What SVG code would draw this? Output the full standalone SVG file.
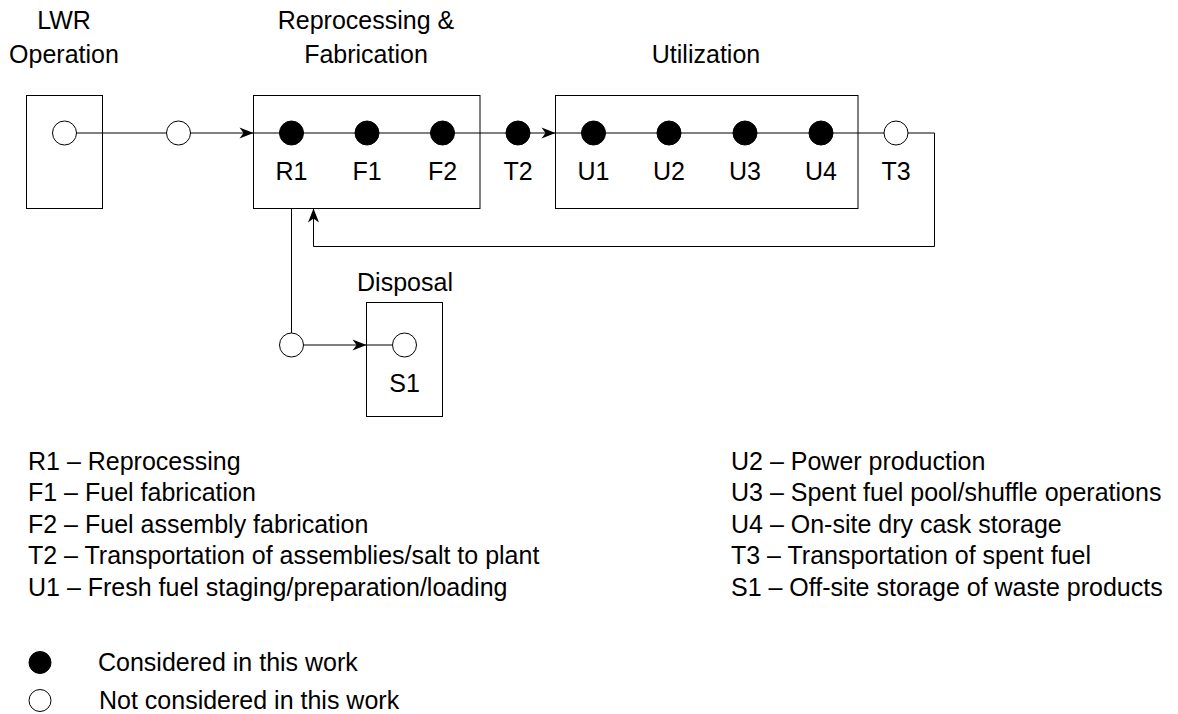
<svg xmlns="http://www.w3.org/2000/svg" width="1178" height="714" viewBox="0 0 1178 714">
<defs>
<marker id="arr" markerUnits="userSpaceOnUse" markerWidth="18" markerHeight="14" viewBox="-16 -7 18 14" refX="0" refY="0" orient="auto">
<path d="M0,0 L-14,-5.5 L-10,0 L-14,5.5 Z" fill="#000"/>
</marker>
</defs>
<style>
text{font-family:"Liberation Sans",Arial,Helvetica,sans-serif;font-size:25px;fill:#000}
.c{text-anchor:middle}
.box{fill:none;stroke:#000;stroke-width:1}
.ln{fill:none;stroke:#000;stroke-width:1}
.open{fill:#fff;stroke:#000;stroke-width:1}
.full{fill:#000;stroke:#000;stroke-width:1}
</style>
<rect width="1178" height="714" fill="#fff"/>
<g id="connectors">
<line class="ln" x1="64" y1="133" x2="166" y2="133"/>
<line class="ln" x1="190" y1="133" x2="253.5" y2="133" marker-end="url(#arr)"/>
<line class="ln" x1="253.5" y1="133" x2="506" y2="133"/>
<line class="ln" x1="506" y1="133" x2="555.5" y2="133" marker-end="url(#arr)"/>
<line class="ln" x1="555.5" y1="133" x2="884" y2="133"/>
<polyline class="ln" points="908,133 934.5,133 934.5,246.5 313.5,246.5 313.5,208.5" marker-end="url(#arr)"/>
<line class="ln" x1="291.5" y1="208.5" x2="291.5" y2="333"/>
<line class="ln" x1="303.5" y1="345" x2="366.5" y2="345" marker-end="url(#arr)"/>
<line class="ln" x1="366.5" y1="345" x2="392" y2="345"/>
</g>
<g id="lwr">
<rect class="box" x="26.5" y="95.5" width="76" height="113"/>
<text class="c" x="64" y="29">LWR</text>
<text class="c" x="64" y="63">Operation</text>
<circle class="open" cx="64.5" cy="133" r="12"/>
</g>
<g id="t1">
<circle class="open" cx="178.5" cy="133" r="12"/>
</g>
<g id="reprocessing">
<rect class="box" x="253.5" y="95.5" width="226.5" height="113"/>
<text class="c" x="366" y="29">Reprocessing &amp;</text>
<text class="c" x="366" y="63">Fabrication</text>
<circle class="full" cx="291.5" cy="133" r="12"/>
<circle class="full" cx="367" cy="133" r="12"/>
<circle class="full" cx="442.5" cy="133" r="12"/>
<text class="c" x="291.5" y="180">R1</text>
<text class="c" x="367" y="180">F1</text>
<text class="c" x="442.5" y="180">F2</text>
</g>
<g id="t2">
<circle class="full" cx="518" cy="133" r="12"/>
<text class="c" x="518" y="180">T2</text>
</g>
<g id="utilization">
<rect class="box" x="555.5" y="95.5" width="302.5" height="113"/>
<text class="c" x="706" y="63">Utilization</text>
<circle class="full" cx="593.5" cy="133" r="12"/>
<circle class="full" cx="669" cy="133" r="12"/>
<circle class="full" cx="745" cy="133" r="12"/>
<circle class="full" cx="821" cy="133" r="12"/>
<text class="c" x="593.5" y="180">U1</text>
<text class="c" x="669" y="180">U2</text>
<text class="c" x="745" y="180">U3</text>
<text class="c" x="821" y="180">U4</text>
</g>
<g id="t3">
<circle class="open" cx="896" cy="133" r="12"/>
<text class="c" x="896" y="180">T3</text>
</g>
<g id="waste">
<circle class="open" cx="291.5" cy="345" r="12"/>
</g>
<g id="disposal">
<rect class="box" x="366.5" y="302.5" width="76" height="114"/>
<text class="c" x="405" y="291">Disposal</text>
<circle class="open" cx="404.5" cy="345" r="12"/>
<text class="c" x="404.5" y="392">S1</text>
</g>
<g id="legend">
<text x="28" y="469.5">R1 – Reprocessing</text>
<text x="28" y="501">F1 – Fuel fabrication</text>
<text x="28" y="532.5">F2 – Fuel assembly fabrication</text>
<text x="28" y="564">T2 – Transportation of assemblies/salt to plant</text>
<text x="28" y="595.5">U1 – Fresh fuel staging/preparation/loading</text>
<text x="731" y="469.5">U2 – Power production</text>
<text x="731" y="501">U3 – Spent fuel pool/shuffle operations</text>
<text x="731" y="532.5">U4 – On-site dry cask storage</text>
<text x="731" y="564">T3 – Transportation of spent fuel</text>
<text x="731" y="595.5">S1 – Off-site storage of waste products</text>
<circle class="full" cx="40" cy="662.5" r="11"/>
<circle class="open" cx="40" cy="700.5" r="11"/>
<text x="98" y="671">Considered in this work</text>
<text x="99" y="709">Not considered in this work</text>
</g>
</svg>
